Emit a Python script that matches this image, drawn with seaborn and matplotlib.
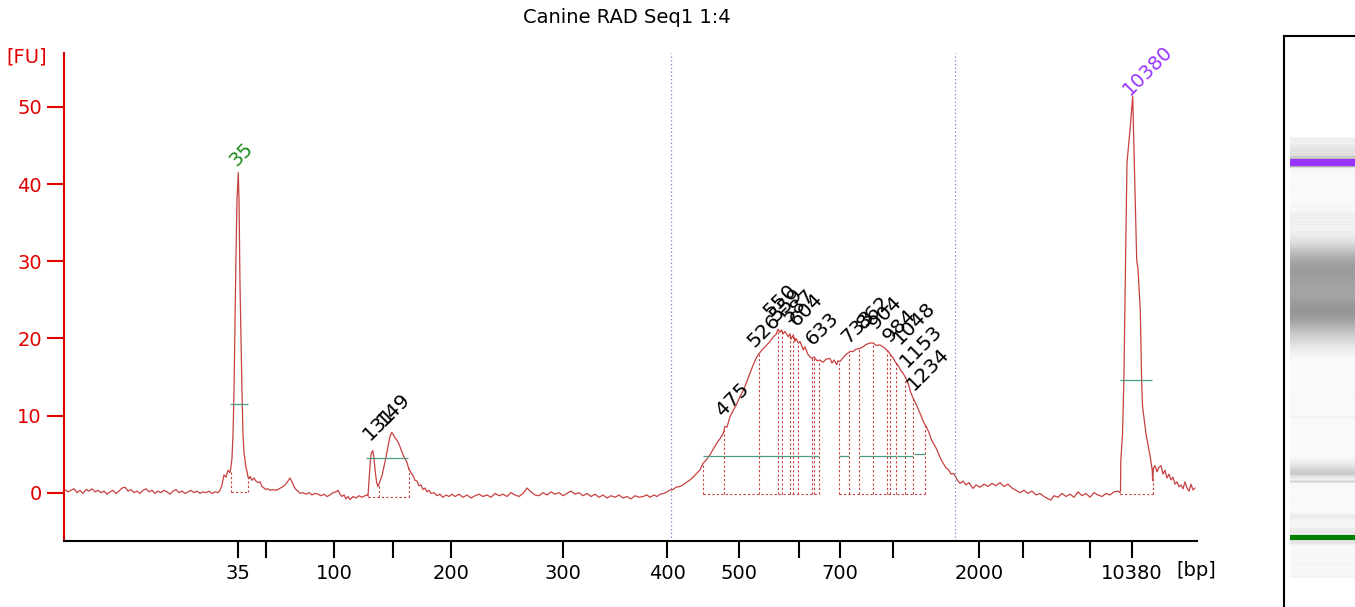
import numpy as np
import matplotlib
matplotlib.use("Agg")
import matplotlib.pyplot as plt
import seaborn as sns

# electropherogram trace, (scan position, fluorescence [FU])
baseline_start = [(65, 0.4), (68, 0.1), (71, 0.3), (74, 0.5), (77, 0.0), (80, 0.3), (83, -0.1), (86, 0.4),
                  (89, 0.2), (92, 0.5), (95, 0.1), (98, 0.3), (101, 0.0), (104, 0.2), (107, -0.2), (110, 0.1),
                  (113, 0.3), (116, -0.1), (119, 0.2), (122, 0.6), (125, 0.7), (128, 0.2), (131, 0.4), (134, 0.0),
                  (137, 0.2), (140, -0.1), (143, 0.3), (146, 0.5), (149, 0.1), (152, 0.3), (155, -0.1), (158, 0.2),
                  (161, 0.0), (164, 0.3), (167, 0.1), (170, -0.2), (173, 0.2), (176, 0.4), (179, 0.0), (182, 0.2),
                  (185, -0.1), (188, 0.1), (191, 0.3), (194, 0.0), (197, 0.2), (200, -0.1), (203, 0.1), (206, 0.0),
                  (209, 0.2), (212, -0.1), (215, 0.1), (218, 0.0), (220, 0.3)]
lower_marker = [(222, 1.0), (224, 2.3), (226, 2.0), (228, 2.9), (230, 2.6), (231, 3.4), (232, 4.5), (233, 7.5),
                (234, 13), (235, 22), (236, 31), (237, 38), (238.3, 41.5), (239, 38), (239.5, 33), (240, 27),
                (241, 20), (242, 13), (243, 7.5), (244, 5.2), (245, 4.2), (246, 3.2), (247, 2.8), (248, 2.0),
                (249, 1.8), (250, 2.1), (252, 1.6), (254, 1.9), (256, 1.5), (258, 1.3), (260, 1.4), (262, 0.8),
                (264, 0.6), (266, 0.4), (268, 0.5), (270, 0.3), (273, 0.4), (276, 0.3), (279, 0.5), (282, 0.7),
                (285, 1.0), (288, 1.5), (290, 1.9), (292, 1.4), (294, 0.8), (296, 0.4), (298, 0.2), (300, -0.1),
                (303, 0.0), (306, -0.2), (309, 0.0), (312, -0.3), (315, -0.1), (318, -0.2), (321, -0.4),
                (324, -0.2), (327, -0.5), (330, -0.3), (333, 0.0), (336, 0.1), (338, 0.3), (340, -0.2),
                (342, -0.5), (344, -0.3), (346, -0.8), (348, -0.5), (350, -0.9), (353, -0.5), (356, -0.7),
                (359, -0.4), (362, -0.6), (365, -0.4), (367, -0.3)]
small_frags = [(368, -0.4), (369, 1.5), (370, 3.5), (371, 5.0), (372.7, 5.45), (374, 4.5), (375, 3.0),
               (376.7, 1.25), (378, 0.8), (380, 1.5), (382, 2.2), (384, 3.4), (386, 4.6), (388, 6.0), (390, 7.3),
               (391.7, 7.8), (393, 7.6), (395, 7.1), (397, 6.8), (399, 6.3), (401, 5.6), (403, 4.9), (405, 4.4),
               (407, 3.9), (409, 3.0), (411, 2.6), (413, 2.2), (415, 1.6), (417, 1.5), (419, 0.9), (421, 1.0),
               (423, 0.4), (425, 0.6), (427, 0.1), (429, 0.3), (431, -0.1), (434, 0.0), (437, -0.4), (440, -0.2),
               (443, -0.6), (446, -0.3), (449, -0.5), (452, -0.2)]
baseline_mid = [(455, -0.5), (459, -0.2), (463, -0.6), (467, -0.3), (471, -0.7), (475, -0.4), (479, -0.2),
                (483, -0.5), (487, -0.3), (491, -0.6), (495, -0.1), (499, -0.4), (503, -0.2), (507, -0.5),
                (511, 0.0), (515, -0.3), (519, -0.5), (523, -0.1), (527, 0.6), (531, 0.1), (535, -0.3),
                (539, -0.4), (543, 0.0), (547, -0.3), (551, 0.1), (555, -0.2), (559, 0.0), (563, -0.4),
                (567, -0.1), (571, 0.2), (575, -0.2), (579, 0.0), (583, -0.4), (587, -0.1), (591, -0.5),
                (595, -0.2), (599, -0.6), (603, -0.3), (607, -0.7), (611, -0.4), (615, -0.6), (619, -0.3),
                (623, -0.7), (627, -0.5), (631, -0.8), (635, -0.4), (639, -0.6)]
smear = [(643, -0.5), (647, -0.3), (650, -0.6), (654, -0.3), (657, -0.5), (660, -0.2), (664, -0.1), (667, 0.1),
         (670, 0.35), (673, 0.4), (676, 0.7), (680, 0.8), (683, 1.0), (686, 1.3), (690, 1.65), (693, 2.0),
         (696, 2.4), (700, 2.95), (703, 3.8), (706, 4.2), (710, 4.9), (713, 5.6), (716.7, 6.4), (720, 7.0),
         (723.3, 7.7), (725, 8.6), (727, 8.5), (730, 9.85), (733, 10.6), (736, 11.3), (740, 12.45), (743, 13.2),
         (746, 14.1), (750, 15.5), (753, 16.5), (756, 17.4), (758.3, 17.9), (762, 18.5), (766.7, 19.15),
         (770, 19.6), (773.3, 20.2), (776, 20.5), (778, 21.2), (780, 20.8), (781.7, 21.1), (783, 20.6),
         (785, 20.9), (788.3, 20.2), (790, 20.6), (791, 19.9), (793.3, 20.45), (795, 19.6), (796, 20.0),
         (798.3, 19.4), (800, 19.6), (803.3, 18.5), (805, 18.9), (808, 17.9), (811.7, 17.4), (814, 17.6),
         (817, 17.1), (820, 17.2), (823, 16.9), (826, 17.3), (830, 17.4), (832, 16.8), (834, 17.2),
         (836.7, 16.6), (838, 17.1), (840, 17.0), (843, 17.5), (846, 17.9), (850, 18.3), (853, 18.3),
         (856, 18.6), (860, 18.7), (863, 18.9), (866, 19.2), (870, 19.4), (873.3, 19.4), (876, 19.1),
         (880, 19.15), (883, 18.9), (885, 18.7), (888.3, 18.3), (891, 17.8), (893, 17.5), (895, 17.0),
         (898, 16.5), (901, 15.8), (903, 15.5), (905, 15.05), (908, 14.2), (911, 12.9), (913.3, 12.2),
         (916, 11.5), (919, 10.6), (921, 10.0), (923.3, 9.2), (926, 8.6), (929, 7.8), (931, 7.0), (933.3, 6.4),
         (936, 5.8), (939, 4.9), (941, 4.3), (943.3, 3.8), (946, 3.2), (949, 2.9), (951, 2.4), (953.3, 2.5),
         (955, 2.2), (957, 1.7), (960, 1.2), (963, 1.5), (966, 1.0), (969, 1.3), (973, 0.55)]
baseline_end = [(976, 1.0), (980, 0.7), (984, 1.1), (988, 0.8), (992, 1.2), (996, 0.9), (1000, 1.3), (1004, 0.8),
                (1008, 1.1), (1012, 0.6), (1016, 0.3), (1020, 0.0), (1024, 0.3), (1028, -0.1), (1032, 0.2),
                (1036, -0.3), (1040, -0.1), (1044, -0.5), (1048, -0.8), (1051, -0.95), (1054, -0.4),
                (1058, -0.6), (1062, -0.1), (1066, -0.5), (1070, -0.2), (1074, -0.6), (1078, 0.1), (1082, -0.4),
                (1086, -0.1), (1090, -0.6), (1094, 0.0), (1098, -0.3), (1102, -0.5), (1106, -0.1), (1110, -0.3),
                (1114, 0.1), (1118, 0.2), (1120, 0.0)]
upper_marker = [(1120.5, 0.3), (1120.8, 4.15), (1122.5, 7.6), (1123.9, 14.6), (1125, 25.0), (1125.7, 31.5),
                (1127, 42.8), (1130, 47.0), (1132.7, 51.4), (1133.5, 47.0), (1134.3, 42.8), (1136.7, 30.2),
                (1138, 28.9), (1140.3, 23.7), (1141.6, 14.6), (1142.6, 11.1), (1146, 7.6), (1150.3, 4.6),
                (1152.3, 2.85), (1152.6, 1.55), (1153.5, 3.2), (1155, 3.5), (1157, 2.7), (1159, 3.3), (1161, 3.5),
                (1163, 2.4), (1165, 2.9), (1167, 1.9), (1169, 2.4), (1171, 1.65), (1173, 2.0), (1175, 1.1),
                (1177, 1.4), (1179, 0.75), (1181, 1.0), (1183, 0.5), (1185, 1.4), (1187, 0.6), (1189, 0.2),
                (1191, 1.1), (1193, 0.35), (1195, 0.6)]

# bp scale (tick positions on the scan axis)
xtick_pos = [238, 266, 334, 393, 451, 563, 667, 739, 799, 840, 893, 979, 1023, 1090, 1132]
xtick_labels = ["35", "", "100", "", "200", "300", "400", "500", "", "700", "", "2000", "", "", "10380"]

# peak labels: text, position, height of label start [FU]
marker_names = ["35", "10380"]
marker_x = [236, 1130]
marker_fu = [42.2, 51.45]
marker_colors = ["#1e8c1e", "#9933ff"]
peak_names = ["131", "149", "475", "526", "550", "559", "587", "604", "633",
              "733", "862", "904", "984", "1048", "1153", "1234"]
peak_x = [370, 384, 723, 755, 771, 777, 788, 797, 813, 848, 864, 876, 890, 900, 907, 914]
peak_fu = [6.7, 8.5, 9.8, 18.7, 22.7, 22.1, 22.0, 21.5, 19.0, 19.3, 21.1, 21.1, 19.4, 19.2, 16.2, 13.2]

# integration windows: boundaries and floor level
lower_bounds, lower_floor = [230.5, 248], 0.13
frag_bounds, frag_floor = [368, 378.7, 408.7], -0.5
smear_bounds = [703, 724, 759, 778, 782, 790, 793, 798, 812, 814, 819,
                839, 849, 859, 873, 887, 890, 896, 905, 913, 925]
smear_floor_spans = [(703, 819), (839, 925)]
smear_floor = -0.17
upper_bounds, upper_floor = [1120, 1152.5], -0.12

# half height bars (FU, start, end)
width_bars = [(11.47, 230, 248.3), (4.46, 366, 408), (14.56, 1119.8, 1151.7),
              (4.76, 703, 812), (4.76, 813, 819), (4.76, 839, 849), (4.76, 859, 896),
              (4.76, 897, 913), (4.95, 914, 925)]
region_lines = [670.5, 955]
gel_start = 143  # first scan position shown in the gel lane

segments = [baseline_start, lower_marker, small_frags, baseline_mid, smear, baseline_end, upper_marker]
pts = [p for seg in segments for p in seg]
tx = np.array([p[0] for p in pts], dtype=float)
ty = np.array([p[1] for p in pts], dtype=float)

sns.set_style("white")
plt.rcParams["font.family"] = ["DejaVu Sans"]
plt.rcParams["text.color"] = "black"

red = "#e00000"
trace_col = "#c84040"
green_bar = "#4a9a86"

fig = plt.figure(figsize=(13.55, 6.07), dpi=100)
ax = fig.add_axes([64 / 1355, (607 - 540.7) / 607, 1133 / 1355, (540.7 - 53) / 607])

sns.lineplot(x=tx, y=ty, ax=ax, color=trace_col, linewidth=0.9, sort=False, estimator=None)

ax.set_xlim(64, 1197)
ax.set_ylim(-6.23, 57.0)

# dotted peak windows
dot = (0, (2, 2))
for bounds, floor in [(lower_bounds, lower_floor), (frag_bounds, frag_floor), (upper_bounds, upper_floor),
                      (smear_bounds, smear_floor)]:
    b = np.array(bounds)
    ax.vlines(b, floor, np.interp(b, tx, ty), colors=trace_col, linestyles=[dot], linewidth=0.8)
for bounds, floor in [(lower_bounds, lower_floor), (frag_bounds, frag_floor), (upper_bounds, upper_floor)]:
    ax.hlines(floor, bounds[0], bounds[-1], colors=trace_col, linestyles=[dot], linewidth=0.8)
for a, b in smear_floor_spans:
    ax.hlines(smear_floor, a, b, colors=trace_col, linestyles=[dot], linewidth=0.8)

for fu, a, b in width_bars:
    ax.hlines(fu, a, b, colors=green_bar, linewidth=0.9)

for xr in region_lines:
    ax.axvline(xr, color="#7b7bd6", linestyle=(0, (1, 2)), linewidth=0.9)

for name, x, fu, c in zip(marker_names, marker_x, marker_fu, marker_colors):
    ax.text(x, fu, name, rotation=45, rotation_mode="anchor", ha="left", va="baseline",
            color=c, fontsize=14)
for name, x, fu in zip(peak_names, peak_x, peak_fu):
    ax.text(x, fu, name, rotation=45, rotation_mode="anchor", ha="left", va="baseline",
            color="black", fontsize=14.5)

# axes styling
sns.despine(ax=ax, top=True, right=True)
ax.spines["left"].set_color(red)
ax.spines["left"].set_linewidth(1.5)
ax.spines["bottom"].set_color("black")
ax.spines["bottom"].set_linewidth(1.5)
ax.set_xticks(xtick_pos)
ax.set_xticklabels(xtick_labels)
ax.set_yticks([0, 10, 20, 30, 40, 50])
ax.tick_params(axis="x", direction="out", length=12, width=1.5, colors="black", labelsize=14, pad=5, bottom=True)
ax.tick_params(axis="y", direction="out", length=12, width=1.5, colors=red, labelsize=14, pad=4, left=True)
ax.set_xlabel("")
ax.set_ylabel("")
ax.grid(False)

fig.text(27 / 1355, 1 - 57 / 607, "[FU]", color=red, fontsize=14, ha="center", va="center")
fig.text(1196.5 / 1355, 1 - 571 / 607, "[bp]", color="black", fontsize=14, ha="center", va="center")
fig.text(627 / 1355, 1 - 22.7 / 607, "Canine RAD Seq1 1:4", color="black", fontsize=14,
         ha="center", va="baseline")

# gel lane built from the same trace
gax = fig.add_axes([1284 / 1355, 0, 90 / 1355, (607 - 36) / 607])
gel_scale = 0.4195  # gel px per scan unit
gax.set_ylim(238 - 69 / gel_scale, 238 + 502 / gel_scale)
gax.set_xlim(0, 1)
keep = tx >= gel_start
gx, gy = tx[keep], ty[keep]
edges = np.concatenate([[gx[0]], (gx[1:] + gx[:-1]) / 2, [gx[-1]]])
level = np.clip(gy, 0, None) / 20.0
gray = np.clip(0.975 - 0.375 * level ** 0.75, 0.5, 1.0)
gax.pcolormesh([0.07, 1.0], edges, gray[:, None], cmap="gray", vmin=0, vmax=1, shading="flat")
for (lo, hi), thr, col in [((225, 255), 5, "#008000"), ((1115, 1160), 20, "#9933ff")]:
    sel = (tx >= lo) & (tx <= hi) & (ty > thr)
    gax.axhspan(tx[sel].min(), tx[sel].max(), xmin=0.07, xmax=1.0, color=col, linewidth=0)
gax.set_xticks([])
gax.set_yticks([])
for s in ["right", "bottom"]:
    gax.spines[s].set_visible(False)
for s in ["left", "top"]:
    gax.spines[s].set_visible(True)
    gax.spines[s].set_color("black")
    gax.spines[s].set_linewidth(1.5)

fig.savefig("out.png", dpi=100)
